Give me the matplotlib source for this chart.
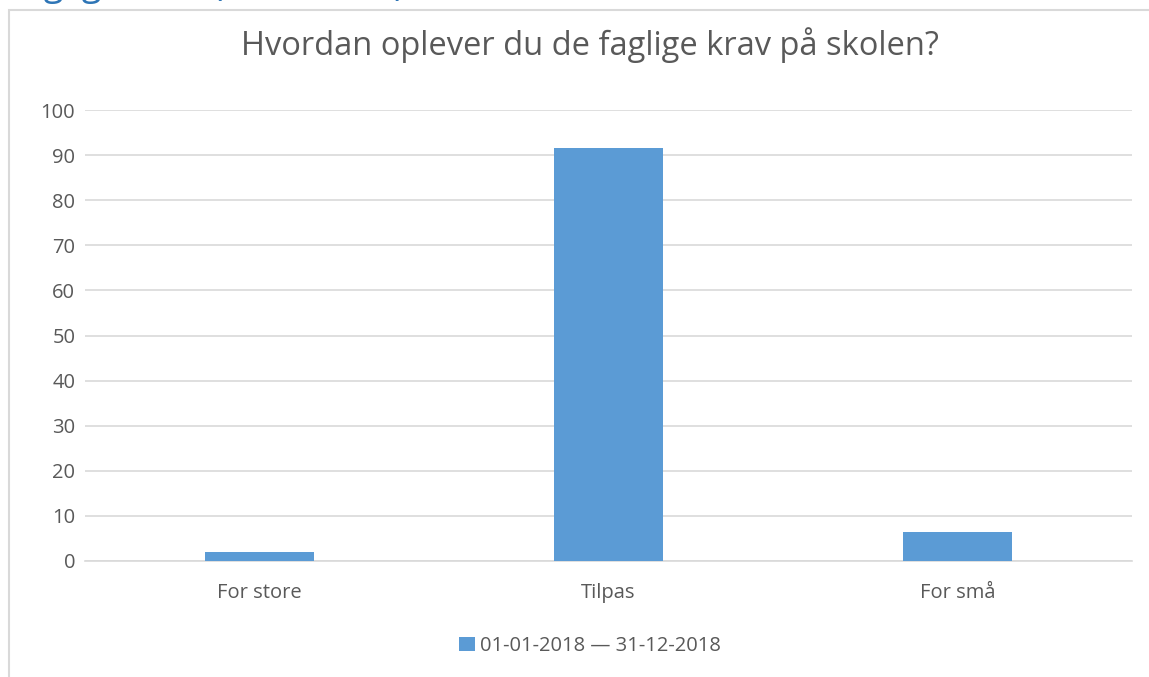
"""
Søjlediagram: Hvordan oplever du de faglige krav på skolen?
"""

import matplotlib.pyplot as plt
from matplotlib.patches import Rectangle

plt.rcParams['font.family'] = ['Open Sans', 'DejaVu Sans']

# data
kategorier = ['For store', 'Tilpas', 'For små']
procent = [2.1, 91.5, 6.4]
y_ticks = [0, 10, 20, 30, 40, 50, 60, 70, 80, 90, 100]
serie_navn = '01-01-2018 — 31-12-2018'
titel = 'Hvordan oplever du de faglige krav på skolen?'
overskrift = 'Faglige krav (alle elever)'

bar_farve = '#5B9BD5'
tekst_farve = '#595959'
grid_farve = '#D9D9D9'

fig = plt.figure(figsize=(11.49, 6.77), dpi=100)

# ramme rundt om diagrammet (højre og nederste kant uden for billedet)
ramme = Rectangle((9 / 1149, -0.05), 1.1, 1 - 10 / 677 + 0.05,
                  transform=fig.transFigure, fill=False,
                  edgecolor=grid_farve, linewidth=1.5, zorder=0)
fig.patches.append(ramme)

# afskåret overskrift øverst (kun underlængder synlige, som i originalen)
fig.text(5 / 1149, 1 + 5 / 677, overskrift, color='#2E75B6',
         fontsize=26, ha='left', va='baseline')

ax = fig.add_axes([85 / 1149, 1 - 561 / 677, 1047 / 1149, 451 / 677])

x = range(len(kategorier))
ax.bar(x, procent, width=0.31, color=bar_farve, label=serie_navn, zorder=3)

ax.set_xlim(-0.5, len(kategorier) - 0.5)
ax.set_ylim(0, 100)
ax.set_yticks(y_ticks)
ax.set_xticks(list(x))
ax.set_xticklabels(kategorier)

ax.grid(axis='y', color=grid_farve, linewidth=1.2, zorder=0)
for side in ['top', 'right', 'left']:
    ax.spines[side].set_visible(False)
ax.spines['bottom'].set_color(grid_farve)
ax.spines['bottom'].set_linewidth(1.2)
ax.tick_params(axis='both', length=0, labelsize=14.5, colors=tekst_farve)
ax.tick_params(axis='x', pad=16)
ax.tick_params(axis='y', pad=7)

fig.text(590 / 1149, 1 - 45 / 677, titel, ha='center', va='center',
         fontsize=23.5, color=tekst_farve)

fig.legend(loc='center', bbox_to_anchor=(590 / 1149, 1 - 646 / 677),
           frameon=False, fontsize=14.5, labelcolor=tekst_farve,
           handlelength=0.75, handleheight=0.75, handletextpad=0.25)

plt.savefig('out.png', dpi=100)
